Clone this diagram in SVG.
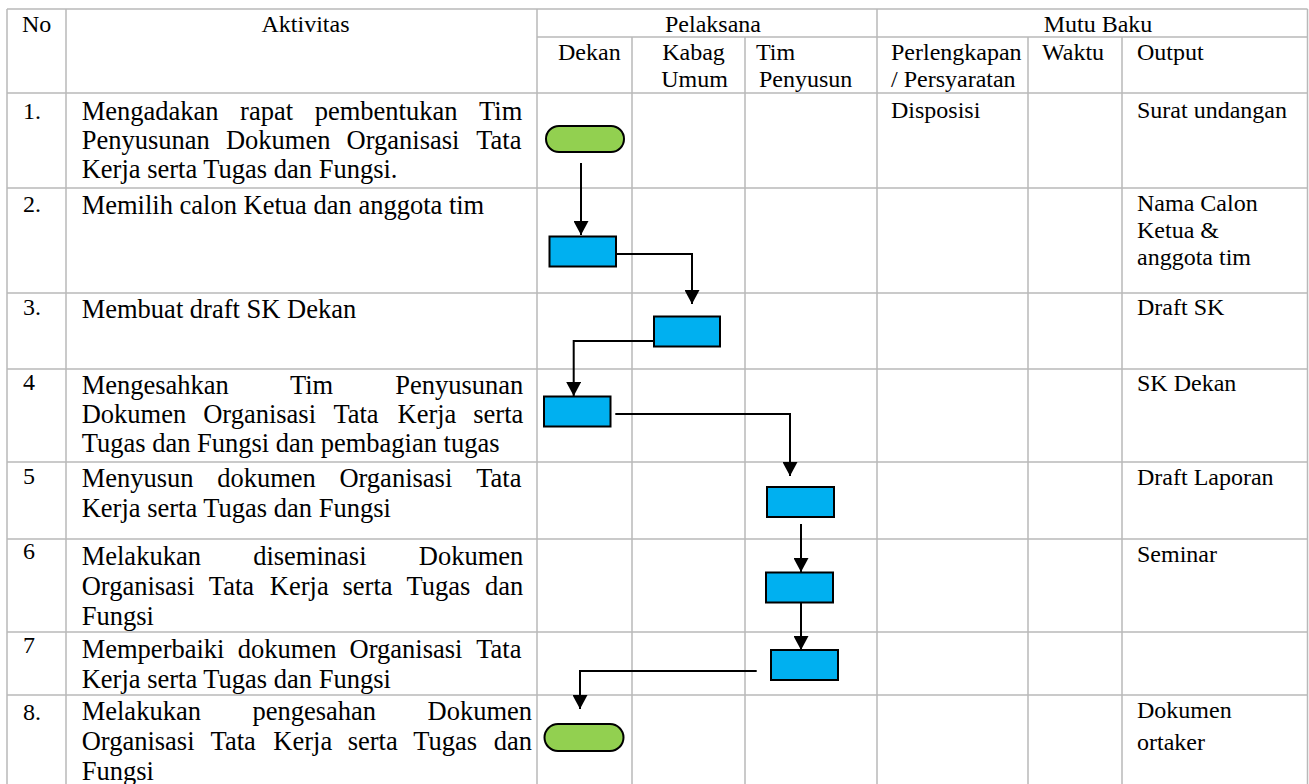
<svg xmlns="http://www.w3.org/2000/svg" width="1309" height="784" viewBox="0 0 1309 784">
<style>
  .grid line { stroke: #b9b9b9; stroke-width: 1.5; }
  text { font-family: "Liberation Serif", "Times New Roman", serif; fill: #000; }
  .t { font-size: 26.5px; }
  .s { font-size: 24px; }
  .mid { text-anchor: middle; }
  .proc { fill: #00B0F0; stroke: #000; stroke-width: 2; }
  .term { fill: #92D050; stroke: #000; stroke-width: 2; }
  .conn path { fill: none; stroke: #000; stroke-width: 2; }
</style>
<defs>
  <marker id="arr" markerUnits="userSpaceOnUse" markerWidth="15" markerHeight="15" refX="14" refY="7.5" orient="auto">
    <path d="M0,0 L14,7.5 L0,15 z" fill="#000"/>
  </marker>
</defs>
<rect x="0" y="0" width="1309" height="784" fill="#fff"/>
<g id="grid" class="grid">
  <line x1="7" y1="9" x2="1307.5" y2="9"/>
  <line x1="537" y1="37" x2="1307.5" y2="37"/>
  <line x1="7" y1="93" x2="1307.5" y2="93"/>
  <line x1="7" y1="188" x2="1307.5" y2="188"/>
  <line x1="7" y1="293" x2="1307.5" y2="293"/>
  <line x1="7" y1="369" x2="1307.5" y2="369"/>
  <line x1="7" y1="462" x2="1307.5" y2="462"/>
  <line x1="7" y1="539" x2="1307.5" y2="539"/>
  <line x1="7" y1="632" x2="1307.5" y2="632"/>
  <line x1="7" y1="695" x2="1307.5" y2="695"/>
  <line x1="7" y1="9" x2="7" y2="784"/>
  <line x1="66" y1="9" x2="66" y2="784"/>
  <line x1="537" y1="9" x2="537" y2="784"/>
  <line x1="877" y1="9" x2="877" y2="784"/>
  <line x1="1307.5" y1="9" x2="1307.5" y2="784"/>
  <line x1="632" y1="37" x2="632" y2="784"/>
  <line x1="745" y1="37" x2="745" y2="784"/>
  <line x1="1028" y1="37" x2="1028" y2="784"/>
  <line x1="1122" y1="37" x2="1122" y2="784"/>
</g>
<g id="header" class="s">
  <text x="22" y="32">No</text>
  <text class="mid" x="305.5" y="32">Aktivitas</text>
  <text class="mid" x="713" y="32">Pelaksana</text>
  <text class="mid" x="1098" y="32">Mutu Baku</text>
  <text x="558" y="60">Dekan</text>
  <text class="mid" x="693.5" y="60">Kabag</text>
  <text class="mid" x="694.5" y="87">Umum</text>
  <text x="756" y="60">Tim</text>
  <text x="759" y="87">Penyusun</text>
  <text x="891" y="60">Perlengkapan</text>
  <text x="891" y="87">/ Persyaratan</text>
  <text x="1042" y="60">Waktu</text>
  <text x="1137" y="60">Output</text>
</g>
<g id="row1">
  <text class="s" x="23" y="119">1.</text>
  <text class="t" y="120"><tspan x="81.7">Mengadakan</tspan><tspan x="240.1">rapat</tspan><tspan x="314.7">pembentukan</tspan><tspan x="479.1">Tim</tspan></text>
  <text class="t" y="149"><tspan x="81.7">Penyusunan</tspan><tspan x="225.9">Dokumen</tspan><tspan x="346.6">Organisasi</tspan><tspan x="476.2">Tata</tspan></text>
  <text class="t" x="81.7" y="178">Kerja serta Tugas dan Fungsi.</text>
  <text class="s" x="891" y="118">Disposisi</text>
  <text class="s" x="1137" y="118">Surat undangan</text>
</g>
<g id="row2">
  <text class="s" x="23" y="212">2.</text>
  <text class="t" x="81.7" y="214">Memilih calon Ketua dan anggota tim</text>
  <text class="s" x="1137" y="211">Nama Calon</text>
  <text class="s" x="1137" y="238">Ketua &amp;</text>
  <text class="s" x="1137" y="265">anggota tim</text>
</g>
<g id="row3">
  <text class="s" x="23" y="315">3.</text>
  <text class="t" x="81.7" y="318">Membuat draft SK Dekan</text>
  <text class="s" x="1137" y="315">Draft SK</text>
</g>
<g id="row4">
  <text class="s" x="23" y="390">4</text>
  <text class="t" y="394"><tspan x="81.7">Mengesahkan</tspan><tspan x="290">Tim</tspan><tspan x="395.3">Penyusunan</tspan></text>
  <text class="t" y="423"><tspan x="81.7">Dokumen</tspan><tspan x="203.2">Organisasi</tspan><tspan x="333.4">Tata</tspan><tspan x="397.5">Kerja</tspan><tspan x="473.3">serta</tspan></text>
  <text class="t" x="81.7" y="452">Tugas dan Fungsi dan pembagian tugas</text>
  <text class="s" x="1137" y="391">SK Dekan</text>
</g>
<g id="row5">
  <text class="s" x="23" y="484">5</text>
  <text class="t" y="487"><tspan x="81.7">Menyusun</tspan><tspan x="217.2">dokumen</tspan><tspan x="339.4">Organisasi</tspan><tspan x="476.2">Tata</tspan></text>
  <text class="t" x="81.7" y="517">Kerja serta Tugas dan Fungsi</text>
  <text class="s" x="1137" y="485">Draft Laporan</text>
</g>
<g id="row6">
  <text class="s" x="23" y="559">6</text>
  <text class="t" y="565"><tspan x="81.7">Melakukan</tspan><tspan x="253.2">diseminasi</tspan><tspan x="418.8">Dokumen</tspan></text>
  <text class="t" y="595"><tspan x="81.7">Organisasi</tspan><tspan x="208.8">Tata</tspan><tspan x="269.8">Kerja</tspan><tspan x="342.5">serta</tspan><tspan x="406.4">Tugas</tspan><tspan x="485">dan</tspan></text>
  <text class="t" x="81.7" y="625">Fungsi</text>
  <text class="s" x="1137" y="562">Seminar</text>
</g>
<g id="row7">
  <text class="s" x="23" y="653">7</text>
  <text class="t" y="658"><tspan x="81.7">Memperbaiki</tspan><tspan x="237.8">dokumen</tspan><tspan x="349.6">Organisasi</tspan><tspan x="476.2">Tata</tspan></text>
  <text class="t" x="81.7" y="688">Kerja serta Tugas dan Fungsi</text>
</g>
<g id="row8">
  <text class="s" x="23" y="720">8.</text>
  <text class="t" y="720"><tspan x="81.7">Melakukan</tspan><tspan x="252.4">pengesahan</tspan><tspan x="427.5">Dokumen</tspan></text>
  <text class="t" y="750"><tspan x="81.7">Organisasi</tspan><tspan x="210.6">Tata</tspan><tspan x="273.3">Kerja</tspan><tspan x="347.7">serta</tspan><tspan x="413.3">Tugas</tspan><tspan x="493.7">dan</tspan></text>
  <text class="t" x="81.7" y="780">Fungsi</text>
  <text class="s" x="1137" y="718">Dokumen</text>
  <text class="s" x="1137" y="750">ortaker</text>
</g>
<g id="node-start"><rect class="term" x="546" y="126" width="78" height="26" rx="13" ry="13"/></g>
<g id="node-2"><rect class="proc" x="549.5" y="236.5" width="66.5" height="30"/></g>
<g id="node-3"><rect class="proc" x="654" y="316.5" width="66" height="30"/></g>
<g id="node-4"><rect class="proc" x="544" y="396.5" width="66.5" height="30"/></g>
<g id="node-5"><rect class="proc" x="767" y="487" width="67" height="30"/></g>
<g id="node-6"><rect class="proc" x="766" y="572.5" width="67" height="30"/></g>
<g id="node-7"><rect class="proc" x="771" y="650" width="67" height="30"/></g>
<g id="node-end"><rect class="term" x="544.5" y="724" width="79" height="27" rx="13.5" ry="13.5"/></g>
<g id="connectors" class="conn">
  <path d="M581,163 V235" marker-end="url(#arr)"/>
  <path d="M616,254 H692 V304" marker-end="url(#arr)"/>
  <path d="M654,341 H573.7 V396" marker-end="url(#arr)"/>
  <path d="M615.3,414 H790 V476" marker-end="url(#arr)"/>
  <path d="M801,524 V572" marker-end="url(#arr)"/>
  <path d="M801,603 V650" marker-end="url(#arr)"/>
  <path d="M756.7,671 H580 V709" marker-end="url(#arr)"/>
</g>
</svg>
